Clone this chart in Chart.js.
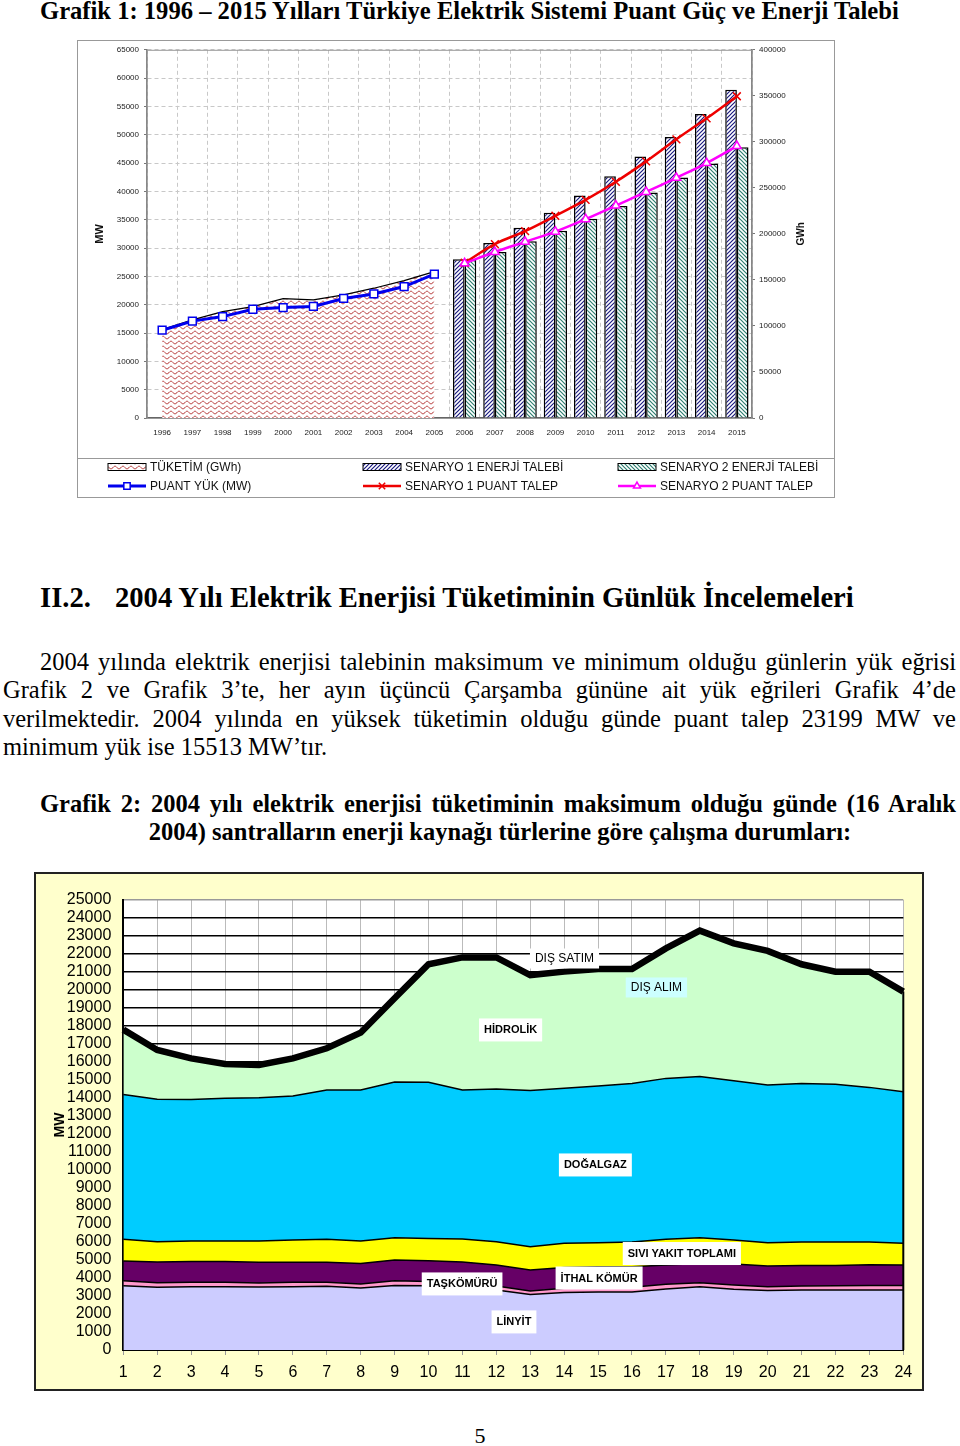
<!DOCTYPE html>
<html lang="tr">
<head>
<meta charset="utf-8">
<script src="https://cdn.jsdelivr.net/npm/chart.js@4.4.1/dist/chart.umd.min.js"></script>
<style>
html, body { margin: 0; padding: 0; background: #fff; }
body { position: relative; width: 960px; height: 1446px; overflow: hidden; font-family: "Liberation Serif", "Times New Roman", serif; color: #000; }
.baslik1 { position: absolute; left: 40px; top: -2px; font-size: 24.6px; font-weight: bold; line-height: 26px; white-space: nowrap; }
#grafik1 { position: absolute; left: 77px; top: 40px; width: 758px; height: 458px; }
.baslik2 { position: absolute; top: 582px; left: 0; width: 960px; height: 32px; font-size: 28.6px; font-weight: bold; line-height: 32px; white-space: nowrap; }
.baslik2 .no { position: absolute; left: 40px; }
.baslik2 .ad { position: absolute; left: 115px; }
.paragraf { position: absolute; left: 3px; width: 953px; top: 648px; font-size: 24.5px; line-height: 28.4px; }
.satir { text-align: justify; text-align-last: justify; white-space: nowrap; }
.ilk { padding-left: 37px; }
.baslik3 { position: absolute; left: 40px; width: 916px; top: 790px; font-size: 24.5px; font-weight: bold; line-height: 28px; }
.orta { text-align: center; white-space: nowrap; padding-left: 4px; }
.kutu2 { position: absolute; left: 34px; top: 872px; width: 890px; height: 519px; box-sizing: border-box; border: 2px solid #222; background: #FFFFCC; }
#grafik2 { display: block; width: 886px; height: 515px; }
.sayfa { position: absolute; left: 0; width: 960px; top: 1424px; text-align: center; font-size: 22px; line-height: 24px; }
</style>
</head>
<body>
<div class="baslik1">Grafik 1: 1996 – 2015 Yılları Türkiye Elektrik Sistemi Puant Güç ve Enerji Talebi</div>
<canvas id="grafik1" width="758" height="458"></canvas>

<div class="baslik2"><span class="no">II.2.</span><span class="ad">2004 Yılı Elektrik Enerjisi Tüketiminin Günlük İncelemeleri</span></div>

<div class="paragraf">
  <div class="satir ilk">2004 yılında elektrik enerjisi talebinin maksimum ve minimum olduğu günlerin yük eğrisi</div>
  <div class="satir">Grafik 2 ve Grafik 3’te, her ayın üçüncü Çarşamba gününe ait yük eğrileri Grafik 4’de</div>
  <div class="satir">verilmektedir. 2004 yılında en yüksek tüketimin olduğu günde puant talep 23199 MW ve</div>
  <div>minimum yük ise 15513 MW’tır.</div>
</div>

<div class="baslik3">
  <div class="satir">Grafik 2: 2004 yılı elektrik enerjisi tüketiminin maksimum olduğu günde (16 Aralık</div>
  <div class="orta">2004) santralların enerji kaynağı türlerine göre çalışma durumları:</div>
</div>

<div class="kutu2"><canvas id="grafik2" width="886" height="515"></canvas></div>

<div class="sayfa">5</div>

<script>
// Grafik 1 verileri
const yillar = ['1996', '1997', '1998', '1999', '2000', '2001', '2002', '2003', '2004', '2005',
                '2006', '2007', '2008', '2009', '2010', '2011', '2012', '2013', '2014', '2015'];
const tuketim = [96000, 106600, 115600, 121000, 129700, 128300, 133700, 141000, 149300, 159000]; // 1996-2005, GWh
const puantYuk = [15500, 17100, 17900, 19200, 19500, 19700, 21100, 21900, 23200, 25400];      // 1996-2005, MW
const s1Enerji = [172400, 190100, 206700, 223000, 241800, 262700, 284100, 305400, 330300, 356700]; // 2006-2015, GWh
const s2Enerji = [172400, 180300, 191900, 203500, 216500, 230200, 245000, 261300, 276500, 294200];
const s1Puant = [27400, 30700, 33000, 35700, 38500, 41700, 45300, 49200, 52900, 56800];       // 2006-2015, MW
const s2Puant = [27300, 29300, 31100, 32900, 35100, 37500, 39900, 42400, 45000, 48000];

// Grafik 2 verileri (16 Aralık 2004, saatlik, MW)
const saatler = ['1', '2', '3', '4', '5', '6', '7', '8', '9', '10', '11', '12',
                 '13', '14', '15', '16', '17', '18', '19', '20', '21', '22', '23', '24'];
const linyit = [3570, 3480, 3520, 3520, 3500, 3520, 3540, 3440, 3590, 3570, 3560, 3330, 3090, 3200, 3220, 3220, 3390, 3520, 3370, 3300, 3330, 3330, 3330, 3330];
const taskomuru = [280, 260, 240, 240, 220, 240, 220, 230, 260, 230, 220, 220, 190, 230, 240, 260, 260, 220, 240, 220, 230, 240, 260, 260];
const ithalKomur = [1090, 1150, 1150, 1150, 1150, 1110, 1110, 1140, 1150, 1160, 1110, 1170, 1160, 1160, 1170, 1150, 1070, 1070, 1170, 1150, 1140, 1130, 1150, 1130];
const siviYakit = [1210, 1130, 1140, 1140, 1180, 1240, 1280, 1240, 1240, 1240, 1280, 1300, 1300, 1340, 1330, 1370, 1430, 1430, 1330, 1290, 1300, 1300, 1260, 1210];
const dogalgaz = [8050, 7910, 7870, 7930, 7970, 8000, 8290, 8390, 8650, 8670, 8270, 8480, 8670, 8610, 8710, 8810, 8940, 8950, 8850, 8760, 8810, 8760, 8590, 8420];
const hidrolik = [3600, 2740, 2280, 1910, 1810, 2090, 2320, 3190, 4650, 6560, 7370, 7310, 6420, 6480, 6500, 6360, 7220, 8110, 7630, 7450, 6620, 6260, 6430, 5560];
const toplam = [17800, 16670, 16200, 15890, 15830, 16200, 16760, 17630, 19540, 21430, 21810, 21810, 20830, 21020, 21170, 21170, 22310, 23300, 22590, 22170, 21430, 21020, 21020, 19910];

const bos = Array(10).fill(null);
const gecmis = a => a.concat(bos);
const gelecek = a => bos.concat(a);

const YAZI = '"Liberation Sans", Arial, sans-serif';

// desenler
function desen(ctx, w, h, ciz) {
    const c = document.createElement('canvas');
    c.width = w; c.height = h;
    const g = c.getContext('2d');
    g.fillStyle = '#fff';
    g.fillRect(0, 0, w, h);
    ciz(g, w, h);
    return ctx.createPattern(c, 'repeat');
}

const ctx1 = document.getElementById('grafik1').getContext('2d');
const desenDalga = desen(ctx1, 8, 5, (g, w) => {
    g.strokeStyle = '#B02828';
    g.lineWidth = 1;
    g.beginPath();
    for (let x = 0; x <= w; x += 0.5) {
        const y = 2.5 + 1.3 * Math.sin(x / w * Math.PI * 2);
        if (x === 0) g.moveTo(x, y); else g.lineTo(x, y);
    }
    g.stroke();
});
const desenMavi = desen(ctx1, 4, 4, g => {
    g.strokeStyle = '#1A1A80';
    g.lineWidth = 1.2;
    g.beginPath();
    g.moveTo(-1, 5); g.lineTo(5, -1);
    g.moveTo(-1, 1); g.lineTo(1, -1);
    g.moveTo(3, 5); g.lineTo(5, 3);
    g.stroke();
});
const desenYesil = desen(ctx1, 4, 4, g => {
    g.strokeStyle = '#2F7F70';
    g.lineWidth = 1.2;
    g.beginPath();
    g.moveTo(-1, -1); g.lineTo(5, 5);
    g.moveTo(3, -1); g.lineTo(5, 1);
    g.moveTo(-1, 3); g.lineTo(1, 5);
    g.stroke();
});

// grafik 1: lejant, çerçeve ve sağ eksen başlığı
const lejant1 = {
    id: 'lejant1',
    beforeDatasetsDraw(chart) {
        const a = chart.chartArea;
        const ctx = chart.ctx;
        ctx.save();
        ctx.strokeStyle = '#999';
        ctx.lineWidth = 1;
        ctx.strokeRect(a.left, a.top + 0.5, a.right - a.left, a.bottom - a.top);
        ctx.restore();
    },
    afterDraw(chart) {
        const ctx = chart.ctx;
        const a = chart.chartArea;
        ctx.save();
        ctx.strokeStyle = '#999';
        ctx.lineWidth = 1;
        ctx.strokeRect(0.5, 0.5, chart.width - 1, chart.height - 1);
        ctx.beginPath();
        ctx.moveTo(0, 418.5);
        ctx.lineTo(chart.width, 418.5);
        ctx.stroke();

        ctx.translate(724, (a.top + a.bottom) / 2);
        ctx.rotate(-Math.PI / 2);
        ctx.font = 'bold 10px ' + YAZI;
        ctx.fillStyle = '#111';
        ctx.textAlign = 'center';
        ctx.textBaseline = 'middle';
        ctx.fillText('GWh', 0, 0);
        ctx.restore();

        const kolonlar = [31, 286, 541];
        const satirlar = [427, 446];
        const sira = [[0, 1, 2], [3, 4, 5]];
        ctx.save();
        ctx.font = '12px ' + YAZI;
        ctx.textBaseline = 'middle';
        sira.forEach((satir, r) => {
            satir.forEach((i, k) => {
                const ds = chart.data.datasets[i];
                const x = kolonlar[k];
                const y = satirlar[r];
                if (r === 0) {
                    ctx.fillStyle = ds.backgroundColor;
                    ctx.fillRect(x, y - 3.5, 38, 7);
                    ctx.strokeStyle = '#000';
                    ctx.lineWidth = 1;
                    ctx.strokeRect(x, y - 3.5, 38, 7);
                } else {
                    ctx.strokeStyle = ds.borderColor;
                    ctx.lineWidth = ds.borderWidth;
                    ctx.beginPath();
                    ctx.moveTo(x, y);
                    ctx.lineTo(x + 38, y);
                    ctx.stroke();
                    ctx.fillStyle = ds.pointBackgroundColor || '#fff';
                    ctx.strokeStyle = ds.pointBorderColor;
                    ctx.lineWidth = ds.pointBorderWidth;
                    Chart.helpers.drawPoint(ctx, {
                        pointStyle: ds.pointStyle, rotation: 0,
                        radius: ds.pointRadius - 1, borderWidth: ds.pointBorderWidth
                    }, x + 19, y);
                }
                ctx.fillStyle = '#111';
                ctx.fillText(ds.label, x + 42, y + 0.5);
            });
        });
        ctx.restore();
    }
};

const sayi = v => String(v);

new Chart(ctx1, {
    type: 'bar',
    data: {
        labels: yillar,
        datasets: [
            {
                type: 'line', label: 'TÜKETİM (GWh)', data: gecmis(tuketim), yAxisID: 'y2',
                fill: 'origin', backgroundColor: desenDalga, borderColor: '#000', borderWidth: 1.2,
                pointRadius: 0, tension: 0, order: 3
            },
            {
                type: 'bar', label: 'SENARYO 1 ENERJİ TALEBİ', data: gelecek(s1Enerji), yAxisID: 'y2',
                backgroundColor: desenMavi, borderColor: '#000', borderWidth: 1.5,
                categoryPercentage: 0.77, barPercentage: 1, order: 2
            },
            {
                type: 'bar', label: 'SENARYO 2 ENERJİ TALEBİ', data: gelecek(s2Enerji), yAxisID: 'y2',
                backgroundColor: desenYesil, borderColor: '#000', borderWidth: 1.5,
                categoryPercentage: 0.77, barPercentage: 1, order: 2
            },
            {
                type: 'line', label: 'PUANT YÜK (MW)', data: gecmis(puantYuk), yAxisID: 'y',
                borderColor: '#0000EE', borderWidth: 3, tension: 0,
                pointStyle: 'rect', pointRadius: 5.5, pointBackgroundColor: '#fff',
                pointBorderColor: '#0000EE', pointBorderWidth: 1.5, order: 0
            },
            {
                type: 'line', label: 'SENARYO 1 PUANT TALEP', data: gelecek(s1Puant), yAxisID: 'y',
                borderColor: '#EE0000', borderWidth: 2.5, tension: 0.4,
                pointStyle: 'crossRot', pointRadius: 5.5, pointBackgroundColor: '#EE0000',
                pointBorderColor: '#EE0000', pointBorderWidth: 1.5, order: 1
            },
            {
                type: 'line', label: 'SENARYO 2 PUANT TALEP', data: gelecek(s2Puant), yAxisID: 'y',
                borderColor: '#FF00FF', borderWidth: 2.5, tension: 0.4,
                pointStyle: 'triangle', pointRadius: 5, pointBackgroundColor: '#fff',
                pointBorderColor: '#FF00FF', pointBorderWidth: 1.5, order: 0
            }
        ]
    },
    options: {
        responsive: false,
        animation: false,
        layout: { padding: { top: 9, left: 0, right: 0, bottom: 0 } },
        plugins: { legend: { display: false }, tooltip: { enabled: false } },
        scales: {
            x: {
                offset: true,
                grid: { offset: true, color: '#c8c8c8', drawTicks: false },
                border: { color: '#666', width: 1.2, dash: [4, 3] },
                ticks: { font: { family: YAZI, size: 8 }, color: '#222', padding: 10, autoSkip: false, maxRotation: 0 },
                afterFit(s) { s.height = 80; }
            },
            y: {
                position: 'left', min: 0, max: 65000,
                ticks: { stepSize: 5000, callback: sayi, font: { family: YAZI, size: 8 }, color: '#222', padding: 5, autoSkip: false },
                grid: { color: '#c8c8c8', tickLength: 3, tickColor: '#777' },
                border: { color: '#777', width: 1.5, dash: [4, 3] },
                title: { display: true, text: 'MW', color: '#111', font: { family: YAZI, size: 11, weight: 'bold' }, padding: { top: 16, bottom: 0 } },
                afterFit(s) { s.width = 70; }
            },
            y2: {
                position: 'right', min: 0, max: 400000,
                ticks: { stepSize: 50000, callback: sayi, font: { family: YAZI, size: 8 }, color: '#222', padding: 4, autoSkip: false },
                grid: { drawOnChartArea: false, tickLength: 3, tickColor: '#777' },
                border: { color: '#777', width: 1.5 },
                afterFit(s) { s.width = 83; }
            }
        }
    },
    plugins: [lejant1]
});

// grafik 2: etiketler
const etiketler = [
    { metin: 'HİDROLİK', saat: 12.42, mw: 17780, kalin: true, zemin: '#fff' },
    { metin: 'DIŞ SATIM', saat: 14.01, mw: 21750, kalin: false, zemin: '#fff' },
    { metin: 'DIŞ ALIM', saat: 16.72, mw: 20140, kalin: false, zemin: '#CCFFFF' },
    { metin: 'DOĞALGAZ', saat: 14.92, mw: 10280, kalin: true, zemin: '#fff' },
    { metin: 'SIVI YAKIT TOPLAMI', saat: 17.47, mw: 5360, kalin: true, zemin: '#fff' },
    { metin: 'İTHAL KÖMÜR', saat: 15.03, mw: 4000, kalin: true, zemin: '#fff' },
    { metin: 'TAŞKÖMÜRÜ', saat: 10.99, mw: 3670, kalin: true, zemin: '#fff' },
    { metin: 'LİNYİT', saat: 12.52, mw: 1560, kalin: true, zemin: '#fff' }
];

const grafik2Eklenti = {
    id: 'grafik2Eklenti',
    beforeDraw(chart) {
        const a = chart.chartArea;
        chart.ctx.save();
        chart.ctx.fillStyle = '#fff';
        chart.ctx.fillRect(a.left, a.top, a.right - a.left, a.bottom - a.top);
        chart.ctx.restore();
    },
    afterDatasetsDraw(chart) {
        const ctx = chart.ctx;
        const x = chart.scales.x, y = chart.scales.y;
        const son = saatler.length - 1;
        ctx.save();
        ctx.strokeStyle = '#000';
        ctx.lineWidth = 2;
        ctx.beginPath();
        ctx.moveTo(x.getPixelForValue(son), y.getPixelForValue(toplam[son]));
        ctx.lineTo(x.getPixelForValue(son), y.getPixelForValue(0));
        ctx.stroke();
        ctx.restore();
    },
    afterDraw(chart) {
        const ctx = chart.ctx;
        const x = chart.scales.x, y = chart.scales.y;
        ctx.save();
        ctx.textAlign = 'center';
        ctx.textBaseline = 'middle';
        etiketler.forEach(e => {
            ctx.font = (e.kalin ? 'bold 11px ' : '12px ') + YAZI;
            const px = x.getPixelForValue(e.saat - 1);
            const py = y.getPixelForValue(e.mw);
            const w = ctx.measureText(e.metin).width + 10;
            const h = e.kalin ? 23 : 20;
            ctx.fillStyle = e.zemin;
            ctx.fillRect(px - w / 2, py - h / 2, w, h);
            ctx.fillStyle = '#000';
            ctx.fillText(e.metin, px, py + 0.5);
        });
        ctx.restore();
    }
};

function alan(ad, veri, renk, dolgu) {
    return {
        label: ad, data: veri, backgroundColor: renk, borderColor: '#000', borderWidth: 1.5,
        fill: dolgu, pointRadius: 0, tension: 0, order: 1
    };
}

new Chart(document.getElementById('grafik2'), {
    type: 'line',
    data: {
        labels: saatler,
        datasets: [
            alan('LİNYİT', linyit, '#CCCCFF', 'origin'),
            alan('TAŞKÖMÜRÜ', taskomuru, '#FF99CC', '-1'),
            alan('İTHAL KÖMÜR', ithalKomur, '#660066', '-1'),
            alan('SIVI YAKIT TOPLAMI', siviYakit, '#FFFF00', '-1'),
            alan('DOĞALGAZ', dogalgaz, '#00CCFF', '-1'),
            alan('HİDROLİK', hidrolik, '#CCFFCC', '-1'),
            {
                label: 'TOPLAM', data: toplam, stack: 'toplam', borderColor: '#000', borderWidth: 6.5,
                fill: false, pointRadius: 0, tension: 0, order: 0
            }
        ]
    },
    options: {
        responsive: false,
        animation: false,
        layout: { padding: { top: 26, right: 18.7, left: 0, bottom: 0 } },
        plugins: { legend: { display: false }, tooltip: { enabled: false } },
        scales: {
            x: {
                offset: false,
                grid: { color: '#bbb', tickLength: 5, tickColor: '#999' },
                border: { color: '#000', width: 2 },
                ticks: { font: { family: YAZI, size: 16 }, color: '#000', padding: 8, autoSkip: false, maxRotation: 0 },
                afterFit(s) { s.height = 39; }
            },
            y: {
                stacked: true, min: 0, max: 25000,
                ticks: { stepSize: 1000, callback: sayi, autoSkip: false, font: { family: YAZI, size: 16 }, color: '#000', padding: 12 },
                grid: { drawTicks: false, lineWidth: 1.5, color: c => (c.tick && c.tick.value === 25000 ? '#999' : '#000') },
                border: { color: '#000', width: 2 },
                title: { display: true, text: 'MW', color: '#000', font: { family: YAZI, size: 14, weight: 'bold' }, padding: { top: 15.6, bottom: 0 } },
                afterFit(s) { s.width = 87.3; }
            }
        }
    },
    plugins: [grafik2Eklenti]
});
</script>
</body>
</html>
